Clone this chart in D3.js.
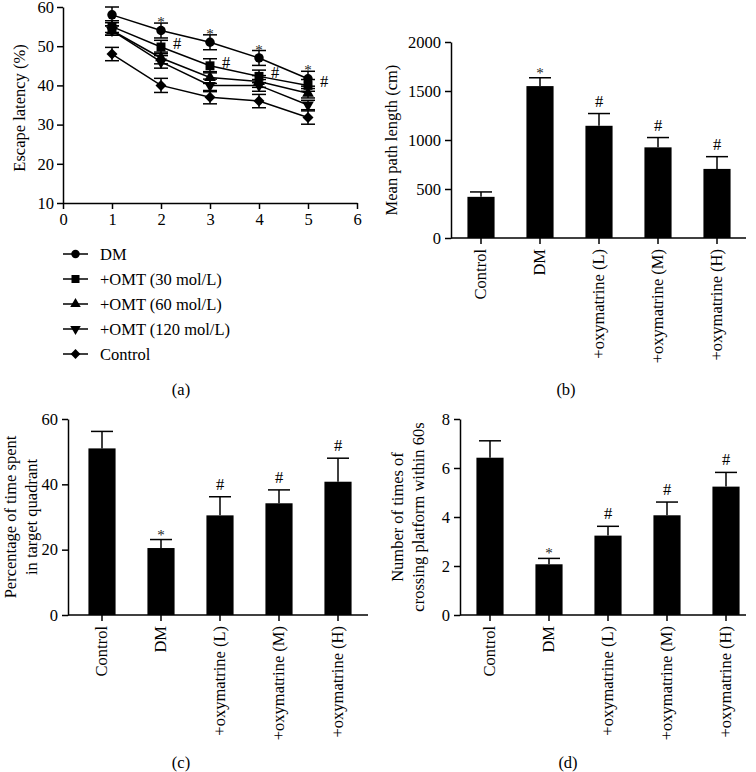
<!DOCTYPE html>
<html>
<head>
<meta charset="utf-8">
<script src="https://cdn.jsdelivr.net/npm/d3@7"></script>
<style>
  body { margin: 0; background: #fff; }
</style>
</head>
<body>
<svg id="canvas" width="756" height="772"></svg>
<script>
// panel (a) data
let days = [1, 2, 3, 4, 5];
let seriesNames = ["DM", "+OMT (30 mol/L)", "+OMT (60 mol/L)", "+OMT (120 mol/L)", "Control"];
let latencyMean = [
  [58, 54, 51, 47, 41.7],
  [55, 49.8, 45, 42.3, 40],
  [54, 47, 42, 41, 38],
  [54, 46, 40, 40, 35],
  [48, 40, 37, 36, 31.8]
];
let latencyErr = [
  [2, 1.9, 1.9, 1.9, 1.9],
  [1.5, 1.7, 1.8, 1.6, 1.5],
  [1.2, 1.5, 1.5, 1.5, 1.2],
  [1.2, 1.6, 1.6, 1.5, 1.2],
  [1.7, 1.8, 1.7, 1.7, 1.7]
];
let starDays = [2, 3, 4, 5];
let hashDays = [2, 3, 4, 5];
let latencyTicksY = [10, 20, 30, 40, 50, 60];
let latencyTicksX = [0, 1, 2, 3, 4, 5, 6];

// bar panels data
let groups = ["Control", "DM", "+oxymatrine (L)", "+oxymatrine (M)", "+oxymatrine (H)"];
let groupMarks = ["", "*", "#", "#", "#"];
let pathMean = [420, 1550, 1145, 925, 705];
let pathErr = [50, 85, 125, 100, 125];
let quadMean = [51, 20.5, 30.5, 34.2, 40.8];
let quadErr = [5.2, 2.6, 5.7, 4.1, 7.2];
let crossMean = [6.42, 2.07, 3.24, 4.07, 5.24];
let crossErr = [0.69, 0.24, 0.38, 0.54, 0.58];

let FONT = "'Liberation Serif', 'Times New Roman', serif";
let FS = 16.5;
let svg = d3.select("#canvas")
  .style("font-family", FONT);

let styleAxis = (sel) => {
  sel.attr("font-family", null).attr("font-size", null);
  sel.selectAll("path, line").attr("stroke", "#000").attr("stroke-width", 1.5);
  sel.selectAll("text")
    .style("font-family", FONT)
    .style("font-size", FS + "px")
    .attr("fill", "#000");
};

let addText = (parent, txt, size) =>
  parent.append("text")
    .style("font-family", FONT)
    .style("font-size", (size || FS) + "px")
    .attr("fill", "#000")
    .text(txt);

// ---------- panel (a) ----------
let ax = d3.scaleLinear().domain([0, 6]).range([63, 357]);
let ay = d3.scaleLinear().domain([10, 60]).range([203, 7]);

let pa = svg.append("g");
pa.append("g")
  .attr("transform", "translate(0,203)")
  .call(d3.axisBottom(ax).tickValues(latencyTicksX).tickFormat(d3.format("d"))
    .tickSize(6).tickPadding(4).tickSizeOuter(0))
  .call(styleAxis);
pa.append("g")
  .attr("transform", "translate(63,0)")
  .call(d3.axisLeft(ay).tickValues(latencyTicksY).tickFormat(d3.format("d"))
    .tickSize(6).tickPadding(3).tickSizeOuter(0))
  .call(styleAxis);

addText(pa, "Escape latency (%)")
  .attr("transform", "translate(19,108) rotate(-90)")
  .attr("text-anchor", "middle")
  .attr("dy", "0.35em");

let symbolFor = (i, size) => {
  let types = [d3.symbolCircle, d3.symbolSquare, d3.symbolTriangle, d3.symbolTriangle, d3.symbolSquare];
  return d3.symbol().type(types[i]).size(size)();
};
let rotFor = (i) => (i === 3 ? 180 : i === 4 ? 45 : 0);
let sizes = [70, 80, 60, 60, 60];

let line = d3.line().x((d) => ax(d[0])).y((d) => ay(d[1]));

latencyMean.forEach((vals, i) => {
  let pts = days.map((d, j) => [d, vals[j], latencyErr[i][j]]);
  let g = pa.append("g");
  g.append("path")
    .attr("d", line(pts))
    .attr("fill", "none")
    .attr("stroke", "#000")
    .attr("stroke-width", 1.5);
  pts.forEach((p) => {
    let x = ax(p[0]);
    g.append("line").attr("x1", x).attr("x2", x)
      .attr("y1", ay(p[1] - p[2])).attr("y2", ay(p[1] + p[2]))
      .attr("stroke", "#000").attr("stroke-width", 1.5);
    [p[1] - p[2], p[1] + p[2]].forEach((v) => {
      g.append("line").attr("x1", x - 7).attr("x2", x + 7)
        .attr("y1", ay(v)).attr("y2", ay(v))
        .attr("stroke", "#000").attr("stroke-width", 1.5);
    });
    g.append("path")
      .attr("d", symbolFor(i, sizes[i]))
      .attr("transform", "translate(" + x + "," + ay(p[1]) + ") rotate(" + rotFor(i) + ")")
      .attr("fill", "#000");
  });
});

starDays.forEach((d) => {
  let j = days.indexOf(d);
  addText(pa, "*", 15)
    .attr("x", ax(d)).attr("y", ay(latencyMean[0][j] + latencyErr[0][j]) + 4)
    .attr("text-anchor", "middle")
    .attr("fill", "#222");
});
hashDays.forEach((d) => {
  let j = days.indexOf(d);
  addText(pa, "#")
    .attr("x", ax(d) + 16).attr("y", ay(latencyMean[1][j]) + 2)
    .attr("text-anchor", "middle");
});

// legend
seriesNames.forEach((name, i) => {
  let y = 254 + i * 25;
  pa.append("line").attr("x1", 63).attr("x2", 88).attr("y1", y).attr("y2", y)
    .attr("stroke", "#000").attr("stroke-width", 1.5);
  pa.append("path")
    .attr("d", symbolFor(i, sizes[i] * 0.8))
    .attr("transform", "translate(75.5," + y + ") rotate(" + rotFor(i) + ")")
    .attr("fill", "#000");
  addText(pa, name)
    .attr("x", 100).attr("y", y + 5.5);
});

addText(svg, "(a)")
  .attr("x", 181).attr("y", 395)
  .attr("text-anchor", "middle");

// ---------- bar panels ----------
let drawBars = (opt) => {
  let g = svg.append("g");
  let x = d3.scaleBand().domain(groups)
    .range([opt.x0, opt.x0 + 295])
    .paddingInner(0.54).paddingOuter(0.27);
  let y = d3.scaleLinear().domain(opt.domain).range([opt.bottom, opt.top]);

  g.selectAll("rect")
    .data(groups)
    .enter()
    .append("rect")
    .attr("x", (d) => x(d))
    .attr("width", x.bandwidth())
    .attr("y", (d, i) => y(opt.mean[i]))
    .attr("height", (d, i) => opt.bottom - y(opt.mean[i]))
    .attr("fill", "#000");

  groups.forEach((d, i) => {
    let cx = x(d) + x.bandwidth() / 2;
    let top = y(opt.mean[i] + opt.err[i]);
    g.append("line").attr("x1", cx).attr("x2", cx)
      .attr("y1", y(opt.mean[i])).attr("y2", top)
      .attr("stroke", "#000").attr("stroke-width", 1.5);
    g.append("line").attr("x1", cx - 11).attr("x2", cx + 11)
      .attr("y1", top).attr("y2", top)
      .attr("stroke", "#000").attr("stroke-width", 1.5);
    if (groupMarks[i] !== "") {
      let star = groupMarks[i] === "*";
      addText(g, groupMarks[i], star ? 15 : FS)
        .attr("x", cx).attr("y", top - (star ? 0 : 7))
        .attr("text-anchor", "middle")
        .attr("fill", star ? "#222" : "#000");
    }
  });

  g.append("g")
    .attr("transform", "translate(" + opt.axisX + ",0)")
    .call(d3.axisLeft(y).tickValues(opt.ticks).tickFormat(d3.format("d"))
      .tickSize(6).tickPadding(4).tickSizeOuter(0))
    .call(styleAxis);

  let xa = g.append("g")
    .attr("transform", "translate(0," + opt.bottom + ")")
    .call(d3.axisBottom(x).tickSize(6).tickSizeOuter(0))
    .call(styleAxis);
  xa.select(".domain").remove();
  xa.append("line")
    .attr("x1", opt.axisX).attr("x2", opt.axisEnd)
    .attr("stroke", "#000").attr("stroke-width", 1.5);
  xa.selectAll(".tick text")
    .attr("transform", "rotate(-90)")
    .attr("text-anchor", "end")
    .attr("x", -11)
    .attr("y", 0)
    .attr("dy", "0.32em");

  let lines = opt.label;
  let lh = 21;
  let cy = (opt.top + opt.bottom) / 2;
  lines.forEach((t, k) => {
    let lx = opt.labelX + (k - (lines.length - 1) / 2) * lh;
    addText(g, t)
      .attr("transform", "translate(" + lx + "," + cy + ") rotate(-90)")
      .attr("text-anchor", "middle")
      .attr("dy", "0.35em");
  });

  addText(g, opt.caption)
    .attr("x", opt.capX).attr("y", opt.capY)
    .attr("text-anchor", "middle");
};

drawBars({
  x0: 451.5, axisX: 451, axisEnd: 746, top: 42, bottom: 238,
  domain: [0, 2000], ticks: [0, 500, 1000, 1500, 2000],
  mean: pathMean, err: pathErr,
  label: ["Mean path length (cm)"], labelX: 391,
  caption: "(b)", capX: 566, capY: 395
});

drawBars({
  x0: 72.5, axisX: 68, axisEnd: 368, top: 419, bottom: 615,
  domain: [0, 60], ticks: [0, 20, 40, 60],
  mean: quadMean, err: quadErr,
  label: ["Percentage of time spent", "in target quadrant"], labelX: 21,
  caption: "(c)", capX: 181, capY: 768
});

drawBars({
  x0: 460.5, axisX: 460, axisEnd: 746, top: 419, bottom: 615,
  domain: [0, 8], ticks: [0, 2, 4, 6, 8],
  mean: crossMean, err: crossErr,
  label: ["Number of times of", "crossing platform within 60s"], labelX: 408,
  caption: "(d)", capX: 568, capY: 768
});
</script>
</body>
</html>
